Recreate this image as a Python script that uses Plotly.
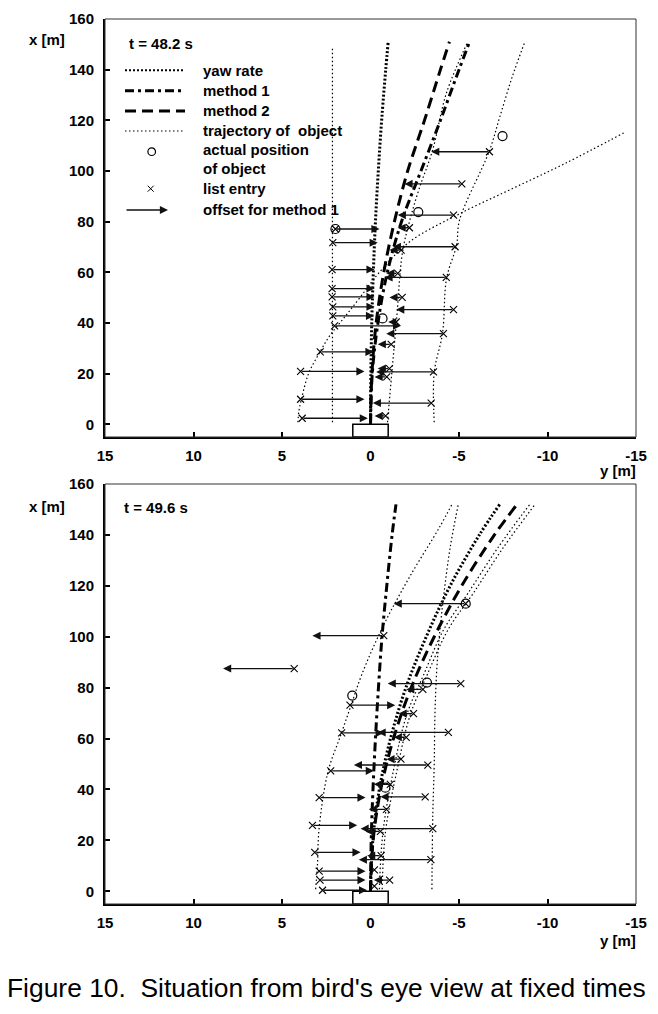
import plotly.graph_objects as go

# ================= DATA =================
# axis ticks
lat_ticks = [15, 10, 5, 0, -5, -10, -15]
lat_ticktext = ["15", "10", "5", "0", "-5", "-10", "-15"]
lon_ticks = [0, 20, 40, 60, 80, 100, 120, 140, 160]
lon_ticktext = ["0", "20", "40", "60", "80", "100", "120", "140", "160"]

# ego vehicle outline (lateral y [m], longitudinal x [m])
car_y = [1, -1]
car_x = [-5, 0]

# ---------- t = 48.2 s ----------
yaw_x_1 = [0, 20, 40, 60, 80, 100, 120, 140, 151]
yaw_y_1 = [0, -0.02, -0.07, -0.16, -0.28, -0.44, -0.63, -0.86, -1.0]
m1_x_1 = [0, 20, 40, 60, 80, 100, 120, 140, 151]
m1_y_1 = [0, -0.1, -0.42, -0.95, -1.75, -2.85, -3.95, -5.0, -5.6]
m2_x_1 = [0, 20, 40, 60, 80, 100, 120, 140, 151]
m2_y_1 = [0, -0.08, -0.32, -0.75, -1.35, -2.1, -3.05, -3.95, -4.46]

trajA_y_1 = [2.15, 2.15]
trajA_x_1 = [0.8, 149]
trajB_y_1 = [4.1, 4.05, 3.9, 3.5, 2.9, 2.3, 1.5, 0.6, -0.5, -2.2, -5.0, -8.0, -11.0, -14.3]
trajB_x_1 = [0.8, 5, 10, 20, 28, 35, 42, 50, 60, 72, 83, 93, 103, 115]
trajC_y_1 = [-3.6, -3.6, -4.07, -4.3, -4.86, -5.03, -6.72, -7.29, -8.0, -8.7]
trajC_x_1 = [0.8, 20.5, 36, 57.7, 70.7, 80.6, 108, 121, 137, 150.6]
trajD_y_1 = [-0.96, -1.2, -1.47, -1.8, -2.2, -2.75, -3.5, -4.3, -5.5]
trajD_x_1 = [0.8, 20, 41, 67.6, 80, 93, 108, 131, 151]

actual_y_1 = [-7.46, -2.7, 1.98, -0.68]
actual_x_1 = [113.8, 83.8, 77.1, 41.8]

list_y_1 = [-6.72, -5.16, -4.69, -2.2, 1.98, 2.13, -4.78, -1.73, 2.17, -4.28, -1.54, 2.17, 2.17,
            -1.79, 2.13, -4.69, 2.13, -1.45, 2.03, -4.12, -1.17, 2.84, 3.95, -1.07, -3.56, -0.92,
            3.95, -3.43, 3.86, -0.85]
list_x_1 = [107.6, 94.9, 82.6, 77.6, 77.1, 71.7, 70.1, 68.8, 61.1, 58.0, 59.6, 53.6, 50.3,
            50.1, 46.4, 45.3, 42.8, 40.4, 38.9, 35.8, 31.6, 28.6, 20.9, 22.0, 20.7, 18.7,
            9.9, 8.4, 2.4, 3.3]
offset_y_1 = [-3.43, -1.92, -1.54, -1.53, -0.51, -0.41, -1.26, -1.07, -0.23, -0.79, -0.89, -0.23, -0.23,
              -1.07, -0.23, -1.45, -0.2, -1.0, -1.73, -0.89, -0.41, -0.17, 0.34, -0.41, -0.32, -0.23,
              0.34, -0.13, 0.15, -0.23]

# ---------- t = 49.6 s ----------
yaw_x_2 = [0, 20, 40, 60, 80, 100, 120, 140, 152]
yaw_y_2 = [0, -0.13, -0.5, -1.13, -2.0, -3.15, -4.5, -6.15, -7.3]
m1_x_2 = [0, 20, 40, 60, 80, 100, 120, 140, 152]
m1_y_2 = [0, -0.04, -0.14, -0.28, -0.45, -0.65, -0.92, -1.22, -1.44]
m2_x_2 = [0, 20, 40, 60, 80, 100, 120, 140, 152]
m2_y_2 = [0, -0.15, -0.58, -1.3, -2.3, -3.6, -5.15, -7.0, -8.28]

trajA_y_2 = [3.1, 3.0, 2.9, 2.4, 1.7, 1.1, 0.5, -0.7, -2.25, -3.9, -4.6]
trajA_x_2 = [0.8, 10, 25, 47, 61, 73, 85, 104, 124, 143, 152]
trajB_y_2 = [-3.47, -3.52, -3.6, -3.65, -3.8, -4.1, -4.5, -4.96]
trajB_x_2 = [0.8, 30, 50, 72, 93, 114, 135, 152]
trajC_y_2 = [-0.66, -0.84, -1.5, -2.25, -3.2, -4.4, -5.8, -7.5, -9.3]
trajC_x_2 = [0.8, 23, 47.6, 69.4, 85, 103, 117, 135, 152]
trajD_y_2 = [-0.5, -0.7, -1.3, -2.05, -3.0, -4.15, -5.5, -7.2, -9.0]
trajD_x_2 = [0.8, 23, 47.6, 69.4, 85, 103, 117, 135, 152]

actual_y_2 = [1.03, -3.19, -5.38, -0.84]
actual_x_2 = [76.9, 82.0, 113.0, 40.7]

list_y_2 = [-5.38, -0.75, 4.31, -5.1, -2.96, 1.16, -2.43, 1.63, -4.4, -2.02, -1.72, -3.24, 2.25,
            -1.12, 2.9, -3.09, -0.9, 3.28, -3.52, -0.56, 3.15, -0.6, -3.41, 2.9, 2.85, -1.08,
            2.71, -0.22, -0.22]
list_x_2 = [113.0, 100.4, 87.5, 81.6, 79.3, 73.1, 69.8, 62.2, 62.4, 60.5, 51.9, 49.6, 47.3,
            42.0, 36.8, 37.1, 32.2, 25.9, 24.6, 23.5, 15.3, 14.0, 12.4, 7.9, 4.4, 4.4,
            0.4, 8.4, 2.0]
offset_y_2 = [-1.31, 3.28, 8.33, -0.97, -2.02, -1.4, -1.59, -0.75, -0.4, -1.31, -0.9, 0.94, -0.19,
              -0.19, 0.28, -0.56, 0.1, 0.75, 0.56, 0.28, 0.56, 0.19, 0.66, 0.28, 0.28, -0.19,
              0.19, None, None]

# ================= LAYOUT HELPERS =================
W, H = 658, 1014
ML, MR, MT, MB = 105, 22, 19, 110
PW, PH = W - ML - MR, H - MT - MB
FONT = "Liberation Sans, Arial, sans-serif"


def PX(x):
    return (x - ML) / PW


def PY(y):
    return (H - MB - y) / PH


top_dom = [PY(437), 1.0]
bot_dom = [0.0, PY(484)]

fig = go.Figure()

STY = {
    "yaw": dict(color="black", width=3, dash="2px,2px"),
    "m1": dict(color="black", width=3, dash="9px,4px,3px,4px"),
    "m2": dict(color="black", width=3, dash="11px,6px"),
    "traj": dict(color="black", width=1.2, dash="1.5px,2.5px"),
}

ARROW = dict(showarrow=True, arrowhead=2, arrowsize=1.25, arrowwidth=1.3,
             arrowcolor="#111", standoff=0, startstandoff=0)


def add_panel(xa, ya, yaw, m1, m2, trajs, actual, lst):
    for ty, tx in trajs:
        fig.add_trace(go.Scatter(x=ty, y=tx, mode="lines", line=STY["traj"],
                                 line_shape="spline",
                                 xaxis=xa, yaxis=ya, showlegend=False, hoverinfo="skip"))
    fig.add_trace(go.Scatter(x=yaw[0], y=yaw[1], mode="lines", line=STY["yaw"],
                             line_shape="spline", xaxis=xa, yaxis=ya, showlegend=False))
    fig.add_trace(go.Scatter(x=m1[0], y=m1[1], mode="lines", line=STY["m1"],
                             line_shape="spline", xaxis=xa, yaxis=ya, showlegend=False))
    fig.add_trace(go.Scatter(x=m2[0], y=m2[1], mode="lines", line=STY["m2"],
                             line_shape="spline", xaxis=xa, yaxis=ya, showlegend=False))
    fig.add_trace(go.Scatter(x=actual[0], y=actual[1], mode="markers",
                             marker=dict(symbol="circle-open", size=9, color="black",
                                         line=dict(width=1.2, color="black")),
                             xaxis=xa, yaxis=ya, showlegend=False))
    fig.add_trace(go.Scatter(x=lst[0], y=lst[1], mode="markers",
                             marker=dict(symbol="x-thin-open", size=7, color="black",
                                         line=dict(width=1.1, color="black")),
                             xaxis=xa, yaxis=ya, showlegend=False))
    for ey, ex, oy in zip(lst[0], lst[1], lst[2]):
        if oy is None:
            continue
        fig.add_annotation(x=oy, y=ex, ax=ey, ay=ex, xref=xa, yref=ya, axref=xa, ayref=ya,
                           text="", **ARROW)
    # car outline
    fig.add_shape(type="rect", xref=xa, yref=ya, x0=car_y[0], x1=car_y[1],
                  y0=car_x[0], y1=car_x[1], line=dict(color="black", width=1.5),
                  fillcolor="white", layer="above")


add_panel("x", "y", (yaw_y_1, yaw_x_1), (m1_y_1, m1_x_1), (m2_y_1, m2_x_1),
          [(trajA_y_1, trajA_x_1), (trajB_y_1, trajB_x_1), (trajC_y_1, trajC_x_1),
           (trajD_y_1, trajD_x_1)],
          (actual_y_1, actual_x_1), (list_y_1, list_x_1, offset_y_1))
add_panel("x2", "y2", (yaw_y_2, yaw_x_2), (m1_y_2, m1_x_2), (m2_y_2, m2_x_2),
          [(trajA_y_2, trajA_x_2), (trajB_y_2, trajB_x_2), (trajC_y_2, trajC_x_2),
           (trajD_y_2, trajD_x_2)],
          (actual_y_2, actual_x_2), (list_y_2, list_x_2, offset_y_2))

tickfont = dict(family=FONT, size=15, color="black", weight="bold")
xcommon = dict(range=[15, -15], tickvals=lat_ticks, ticktext=lat_ticktext, ticks="inside",
               ticklen=5, tickwidth=1.5, tickcolor="black", showline=True, linewidth=2,
               linecolor="black", showgrid=False, zeroline=False, tickfont=tickfont,
               ticklabelstandoff=4, automargin=False)
ycommon = dict(range=[-5, 160], tickvals=lon_ticks, ticktext=lon_ticktext, ticks="inside",
               ticklen=5, tickwidth=1.5, tickcolor="black", showline=True, linewidth=2,
               linecolor="black", showgrid=False, zeroline=False, tickfont=tickfont,
               ticklabelstandoff=6, automargin=False)

fig.update_layout(
    width=W, height=H, autosize=False,
    margin=dict(l=ML, r=MR, t=MT, b=MB, autoexpand=False),
    paper_bgcolor="white", plot_bgcolor="white",
    showlegend=False,
    font=dict(family=FONT, color="black"),
    xaxis=dict(domain=[0, 1], anchor="y", **xcommon),
    yaxis=dict(domain=top_dom, anchor="x", **ycommon),
    xaxis2=dict(domain=[0, 1], anchor="y2", **xcommon),
    yaxis2=dict(domain=bot_dom, anchor="x2", **ycommon),
)

# thin frame (top / right)
for xr, yr in (("x domain", "y domain"), ("x2 domain", "y2 domain")):
    fig.add_shape(type="rect", xref=xr, yref=yr, x0=0, x1=1, y0=0, y1=1,
                  line=dict(color="#333", width=1), layer="above")

bold15 = dict(family=FONT, size=15, color="black", weight="bold")


def label(text, x, y, xanchor="left"):
    fig.add_annotation(text=text, x=PX(x), y=PY(y), xref="paper", yref="paper",
                       xanchor=xanchor, yanchor="middle", showarrow=False, font=bold15)


# axis titles
label("x [m]", 27, 40)
label("y [m]", 638, 470, "right")
label("x [m]", 27, 506)
label("y [m]", 638, 940, "right")
# time labels
label("t = 48.2 s", 127, 43)
label("t = 49.6 s", 122, 508)

# legend (top panel)
LX0, LX1, TX = 125, 185, 201
legend_rows = [("yaw rate", 70.3, "yaw"), ("method 1", 90.7, "m1"),
               ("method 2", 111, "m2"), ("trajectory of\u00a0 object", 131, "traj")]
for txt, yy, key in legend_rows:
    st = dict(STY[key])
    if key == "yaw":
        st["width"] = 2
    fig.add_shape(type="line", xref="paper", yref="paper", x0=PX(LX0), x1=PX(LX1),
                  y0=PY(yy), y1=PY(yy), line=st)
    label(txt, TX, yy)
label("actual position", TX, 149.3)
label("of object", TX, 168.3)
label("list entry", TX, 188.7)
label("offset for method 1", TX, 210)
cx, cy, r = 151.7, 151.7, 3.8
fig.add_shape(type="circle", xref="paper", yref="paper", x0=PX(cx - r), x1=PX(cx + r),
              y0=PY(cy + r), y1=PY(cy - r), line=dict(color="black", width=1.2))
mx, my, s = 150.7, 188.7, 3
fig.add_shape(type="line", xref="paper", yref="paper", x0=PX(mx - s), x1=PX(mx + s),
              y0=PY(my - s), y1=PY(my + s), line=dict(color="black", width=1))
fig.add_shape(type="line", xref="paper", yref="paper", x0=PX(mx - s), x1=PX(mx + s),
              y0=PY(my + s), y1=PY(my - s), line=dict(color="black", width=1))
fig.add_annotation(x=PX(168), y=PY(210), xref="paper", yref="paper", ax=-43, ay=0,
                   text="", **ARROW)

# caption
fig.add_annotation(text="Figure 10.\u00a0 Situation from bird's eye view at fixed times",
                   x=PX(5), y=PY(988), xref="paper", yref="paper", xanchor="left",
                   yanchor="middle", showarrow=False,
                   font=dict(family=FONT, size=26.4, color="black"))

fig.write_html("out.html", config={"displayModeBar": False},
               post_script="document.body.style.margin='0';document.body.style.overflow='hidden';")
